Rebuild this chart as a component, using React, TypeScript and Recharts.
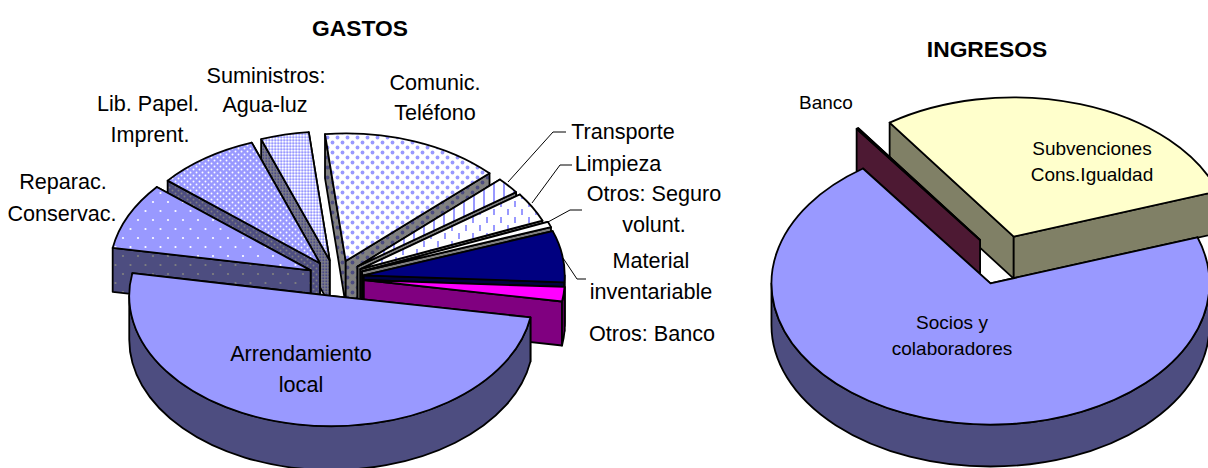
import { PieChart, Pie } from "recharts";

// values, in % of each pie, clockwise
const gastosNames = ["Comunic. Teléfono", "Transporte", "Limpieza", "Otros: Seguro volunt.", "Material inventariable", "Otros: Banco", "Arrendamiento local", "Reparac. Conservac.", "Lib. Papel. Imprent.", "Suministros: Agua-luz"];
const gastosValues = [14.6, 2.06, 3.75, 0.7, 6.4, 1.8, 50.1, 8.35, 8.3, 3.9];
const ingresosNames = ["Banco", "Subvenciones Cons.Igualdad", "Socios y colaboradores"];
const ingresosValues = [0.15, 29.45, 70.4];

const gastosData = gastosNames.map((name, i) => ({ name, value: gastosValues[i] }));
const ingresosData = ingresosNames.map((name, i) => ({ name, value: ingresosValues[i] }));

// back to front
const gastosPaint = [0, 9, 8, 7, 1, 2, 3, 4, 5, 6];
const ingresosPaint = [1, 0, 2];

const TILT = 0.645;
const W = 1208;
const H = 468;

const gastosGeom = { cx: 336, cy: 278, r: 201, explode: 28, depth: 44 };
const ingresosGeom = { cx: 1002, cy: 260, r: 219, explode: 38, depth: 42 };

// the far side of the original is drawn in perspective, so it comes out a bit shorter
const gastosRadius = [198, 196, 197, 201, 201, 201, 202, 201, 199, 200];
const ingresosRadius = [212, 216, 219];

const periwinkle = "#9999FF";
const shade = "#4D4D80";

const fills: Record<string, { top: string; wall: string }> = {
  "Comunic. Teléfono": { top: "url(#p-com)", wall: "url(#p-com-w)" },
  Transporte: { top: "url(#p-tra)", wall: "#808080" },
  Limpieza: { top: "url(#p-lim)", wall: "#808080" },
  "Otros: Seguro volunt.": { top: "#FFFFFF", wall: "#808080" },
  "Material inventariable": { top: "#000080", wall: "#000040" },
  "Otros: Banco": { top: "#FF00FF", wall: "#800080" },
  "Arrendamiento local": { top: periwinkle, wall: shade },
  "Reparac. Conservac.": { top: "url(#p-rep)", wall: "url(#p-rep-w)" },
  "Lib. Papel. Imprent.": { top: "url(#p-lib)", wall: "url(#p-lib-w)" },
  "Suministros: Agua-luz": { top: "url(#p-sum)", wall: "url(#p-sum-w)" },
  Banco: { top: "#4D1933", wall: "#4D1933" },
  "Subvenciones Cons.Igualdad": { top: "#FFFFCC", wall: "#808066" },
  "Socios y colaboradores": { top: periwinkle, wall: shade },
};

const rad = (a: number) => (a * Math.PI) / 180;

function Slice3D({ sector, geom }: { sector: any; geom: typeof gastosGeom }) {
  const { startAngle, endAngle, cx, cy, outerRadius: r, name } = sector;
  const mid = (startAngle + endAngle) / 2;
  const ox = cx + geom.explode * Math.cos(rad(mid));
  const oy = cy - geom.explode * TILT * Math.sin(rad(mid));
  const ry = r * TILT;
  const pt = (a: number, drop = 0) => [ox + r * Math.cos(rad(a)), oy - ry * Math.sin(rad(a)) + drop];
  const P = (p: number[]) => `${p[0].toFixed(2)} ${p[1].toFixed(2)}`;
  const hi = Math.max(startAngle, endAngle);
  const lo = Math.min(startAngle, endAngle);
  const big = hi - lo > 180 ? 1 : 0;
  const d = geom.depth;

  // rim: only the part of the arc on the near half of the ellipse
  const rims: string[] = [];
  for (let k = -2; k <= 2; k++) {
    const a1 = Math.min(hi, 360 * k);
    const a0 = Math.max(lo, 360 * k - 180);
    if (a1 > a0) {
      rims.push(
        `M ${P(pt(a1))} A ${r} ${ry} 0 0 1 ${P(pt(a0))} L ${P(pt(a0, d))} A ${r} ${ry} 0 0 0 ${P(pt(a1, d))} Z`
      );
    }
  }
  const apex = [ox, oy];
  const apexLow = [ox, oy + d];
  const wallAt = (a: number) => `M ${P(apex)} L ${P(pt(a))} L ${P(pt(a, d))} L ${P(apexLow)} Z`;
  // farther radial wall goes first
  const walls = [hi, lo].sort((a, b) => Math.sin(rad(b)) - Math.sin(rad(a)));
  const f = fills[name];
  const line = { stroke: "#000", strokeWidth: 1.8, strokeLinejoin: "round" as const };

  return (
    <g>
      {walls.map((a) => (
        <path key={a} d={wallAt(a)} fill={f.wall} {...line} />
      ))}
      {rims.map((p, i) => (
        <path key={i} d={p} fill={f.wall} {...line} />
      ))}
      <path
        d={`M ${P(apex)} L ${P(pt(hi))} A ${r} ${ry} 0 ${big} 1 ${P(pt(lo))} Z`}
        fill={f.top}
        {...line}
      />
    </g>
  );
}

function Patterns() {
  return (
    <defs>
      <pattern id="p-com" width="10" height="10" patternUnits="userSpaceOnUse">
        <rect width="10" height="10" fill="#fff" />
        <circle cx="2.5" cy="2.5" r="1.9" fill={periwinkle} />
        <circle cx="7.5" cy="7.5" r="1.9" fill={periwinkle} />
      </pattern>
      <pattern id="p-com-w" width="10" height="10" patternUnits="userSpaceOnUse">
        <rect width="10" height="10" fill="#808080" />
        <circle cx="2.5" cy="2.5" r="1.9" fill={shade} />
        <circle cx="7.5" cy="7.5" r="1.9" fill={shade} />
      </pattern>
      <pattern id="p-tra" width="10" height="8" patternUnits="userSpaceOnUse">
        <rect width="10" height="8" fill="#fff" />
        <rect x="3" width="2" height="8" fill={periwinkle} />
      </pattern>
      <pattern id="p-lim" width="14" height="16" patternUnits="userSpaceOnUse">
        <rect width="14" height="16" fill="#fff" />
        <rect x="3" y="1" width="2" height="6" fill={periwinkle} />
        <rect x="10" y="9" width="2" height="6" fill={periwinkle} />
      </pattern>
      <pattern id="p-rep" width="15" height="18" patternUnits="userSpaceOnUse">
        <rect width="15" height="18" fill={periwinkle} />
        <circle cx="3" cy="4" r="1.1" fill="#fff" />
        <circle cx="10.5" cy="13" r="1.1" fill="#fff" />
      </pattern>
      <pattern id="p-rep-w" width="15" height="18" patternUnits="userSpaceOnUse">
        <rect width="15" height="18" fill={shade} />
        <circle cx="3" cy="4" r="1.1" fill="#808080" />
        <circle cx="10.5" cy="13" r="1.1" fill="#808080" />
      </pattern>
      <pattern id="p-lib" width="6" height="6" patternUnits="userSpaceOnUse">
        <rect width="6" height="6" fill={periwinkle} />
        <circle cx="1.5" cy="1.5" r="0.95" fill="#fff" />
        <circle cx="4.5" cy="4.5" r="0.95" fill="#fff" />
      </pattern>
      <pattern id="p-lib-w" width="6" height="6" patternUnits="userSpaceOnUse">
        <rect width="6" height="6" fill={shade} />
        <circle cx="1.5" cy="1.5" r="0.95" fill="#808080" />
        <circle cx="4.5" cy="4.5" r="0.95" fill="#808080" />
      </pattern>
      <pattern id="p-sum" width="3" height="3" patternUnits="userSpaceOnUse">
        <rect width="3" height="3" fill="#CCCCFF" />
        <rect width="1.5" height="1.5" fill="#fff" />
        <rect x="1.5" y="1.5" width="1.5" height="1.5" fill={periwinkle} />
      </pattern>
      <pattern id="p-sum-w" width="3" height="3" patternUnits="userSpaceOnUse">
        <rect width="3" height="3" fill="#6F6F8F" />
        <rect width="1.5" height="1.5" fill="#808080" />
        <rect x="1.5" y="1.5" width="1.5" height="1.5" fill={shade} />
      </pattern>
    </defs>
  );
}

// text, x centre, baseline
const bigLabels: [string, number, number][] = [
  ["Suministros:", 266, 83],
  ["Agua-luz", 265, 112],
  ["Comunic.", 435, 90],
  ["Teléfono", 435, 120],
  ["Lib. Papel.", 148, 111],
  ["Imprent.", 150, 142],
  ["Reparac.", 63, 189],
  ["Conservac.", 62, 221],
  ["Transporte", 623, 139],
  ["Limpieza", 618, 171],
  ["Otros: Seguro", 654, 201],
  ["volunt.", 654, 232],
  ["Material", 651, 268],
  ["inventariable", 651, 299],
  ["Otros: Banco", 652, 341],
  ["Arrendamiento", 301, 361],
  ["local", 301, 392],
];
const smallLabels: [string, number, number][] = [
  ["Banco", 826, 109],
  ["Subvenciones", 1092, 155],
  ["Cons.Igualdad", 1092, 181],
  ["Socios y", 952, 329],
  ["colaboradores", 952, 355],
];
const titles: [string, number, number][] = [
  ["GASTOS", 360, 36],
  ["INGRESOS", 987, 57],
];
const leaders = [
  "508,182 553,132 566,132",
  "532,203 560,165 572,165",
  "548,222 570,210 582,210",
  "563,258 577,279 586,279",
];

export default function App() {
  const fontFamily = "'Liberation Sans', Arial, sans-serif";
  return (
    <div style={{ position: "absolute", left: 0, top: 0, width: W, height: H, overflow: "hidden", background: "#fff" }}>
      <PieChart width={W} height={H} margin={{ top: 0, right: 0, bottom: 0, left: 0 }}>
        <Patterns />
        {gastosPaint.map((idx) => (
          <Pie
            key={"g" + idx}
            data={gastosData}
            dataKey="value"
            nameKey="name"
            cx={gastosGeom.cx}
            cy={gastosGeom.cy}
            outerRadius={gastosRadius[idx]}
            startAngle={96}
            endAngle={-264}
            isAnimationActive={false}
            shape={(s: any) =>
              s.name === gastosNames[idx] ? <Slice3D sector={s} geom={gastosGeom} /> : <g />
            }
          />
        ))}
        {ingresosPaint.map((idx) => (
          <Pie
            key={"i" + idx}
            data={ingresosData}
            dataKey="value"
            nameKey="name"
            cx={ingresosGeom.cx}
            cy={ingresosGeom.cy}
            outerRadius={ingresosRadius[idx]}
            startAngle={125.6}
            endAngle={-234.4}
            isAnimationActive={false}
            shape={(s: any) =>
              s.name === ingresosNames[idx] ? <Slice3D sector={s} geom={ingresosGeom} /> : <g />
            }
          />
        ))}
      </PieChart>
      {/* the pies paint above the chart's own children, so the text sits in its own layer */}
      <svg width={W} height={H} style={{ position: "absolute", left: 0, top: 0, pointerEvents: "none" }}>
        {leaders.map((pts) => (
          <polyline key={pts} points={pts} fill="none" stroke="#000" strokeWidth={1} />
        ))}
        {bigLabels.map(([t, x, y]) => (
          <text key={t} x={x} y={y} textAnchor="middle" fontFamily={fontFamily} fontSize={21.6} fill="#000">
            {t}
          </text>
        ))}
        {smallLabels.map(([t, x, y]) => (
          <text key={t} x={x} y={y} textAnchor="middle" fontFamily={fontFamily} fontSize={19} fill="#000">
            {t}
          </text>
        ))}
        {titles.map(([t, x, y]) => (
          <text key={t} x={x} y={y} textAnchor="middle" fontFamily={fontFamily} fontSize={22.8} fontWeight="bold" fill="#000">
            {t}
          </text>
        ))}
      </svg>
    </div>
  );
}
